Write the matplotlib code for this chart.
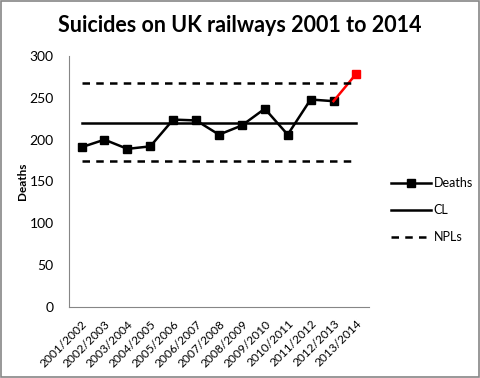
#!/usr/bin/env python3
"""Suicides on UK railways, control chart."""

import matplotlib
matplotlib.use("Agg")
import matplotlib.pyplot as plt
from matplotlib.lines import Line2D
from matplotlib.patches import Rectangle

YEARS = ["2001/2002", "2002/2003", "2003/2004", "2004/2005", "2005/2006",
         "2006/2007", "2007/2008", "2008/2009", "2009/2010", "2010/2011",
         "2011/2012", "2012/2013", "2013/2014"]
DEATHS = [191, 200, 189, 192, 224, 223, 206, 217, 237, 206, 248, 246, 279]
CL = 220
UNPL = 268
LNPL = 174

plt.rcParams["font.family"] = ["Lato", "DejaVu Sans"]

fig = plt.figure(figsize=(4.8, 3.78), dpi=100)
ax = fig.add_axes([69 / 480, 1 - 307 / 378, 300 / 480, 251 / 378])

x = list(range(len(YEARS)))
ax.plot(x[:-1], DEATHS[:-1], "-s", color="black", lw=1.8, ms=6)
ax.plot(x[-2:], DEATHS[-2:], "-", color="red", lw=1.8)
ax.plot(x[-1], DEATHS[-1], "s", color="red", ms=6)
ax.plot([x[0], x[-1]], [CL, CL], "-", color="black", lw=1.8)
ax.plot([x[0], x[-1]], [UNPL, UNPL], "--", color="black", lw=1.8, dashes=(3, 2.5))
ax.plot([x[0], x[-1]], [LNPL, LNPL], "--", color="black", lw=1.8, dashes=(3, 2.5))

ax.set_xlim(-0.55, len(YEARS) - 0.45)
ax.set_ylim(0, 300)
ax.set_yticks(range(0, 301, 50))
ax.set_xticks(x)
ax.set_xticklabels(YEARS, rotation=45, ha="right", rotation_mode="anchor", fontsize=8.6)
ax.tick_params(axis="y", length=0, pad=11, labelsize=10)
ax.tick_params(axis="x", length=0, pad=8)
for side in ("top", "right"):
    ax.spines[side].set_visible(False)
for side in ("left", "bottom"):
    ax.spines[side].set_color("#868686")
ax.set_ylabel("Deaths", fontsize=8.5, fontweight="bold", labelpad=1)

fig.text(0.5, 1 - 25 / 378, "Suicides on UK railways 2001 to 2014", ha="center",
         va="center", fontsize=15.5, fontweight="bold")

handles = [
    Line2D([], [], color="black", lw=1.8, marker="s", ms=6),
    Line2D([], [], color="black", lw=1.8),
    Line2D([], [], color="black", lw=1.8, ls="--", dashes=(3, 2.5)),
]
fig.legend(handles, ["Deaths", "CL", "NPLs"], loc="center left",
           bbox_to_anchor=(380 / 480, 1 - 210 / 378), frameon=False,
           fontsize=9, handlelength=3.2, labelspacing=1.2, handletextpad=0.2)

fig.patches.append(Rectangle((0.002, 0.002), 0.996, 0.996, transform=fig.transFigure,
                             fill=False, edgecolor="#868686", lw=1.2))

fig.savefig("out.png", dpi=100)
